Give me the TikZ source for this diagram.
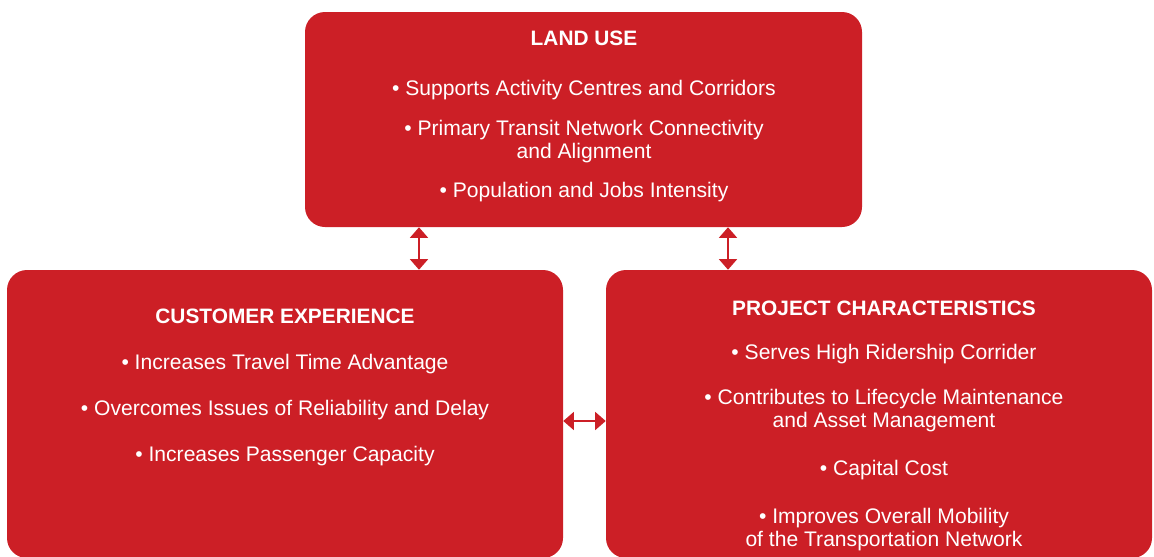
\documentclass[tikz,border=0pt]{standalone}
\usepackage{fontspec}
\setmainfont{Liberation Sans}
\usetikzlibrary{arrows.meta}
\definecolor{boxred}{RGB}{204,31,38}

\begin{document}
\begin{tikzpicture}[
	box/.style={fill=boxred, rounded corners=0.6cm, inner sep=0pt},
	hd/.style={text=white, inner sep=0pt, font=\fontsize{17.8}{19.6}\selectfont\bfseries},
	item/.style={text=white, inner sep=0pt, align=center, font=\fontsize{18}{19.6}\selectfont},
	arr/.style={draw=boxred, line width=2.4pt, {Triangle[length=9pt,width=15pt]}-{Triangle[length=9pt,width=15pt]}}
]
	\useasboundingbox (0,0) rectangle (34.62,-16.68);

	% the three boxes
	\node[box, minimum width=16.71cm, minimum height=6.45cm] (landuse) at (17.505,-3.585) {};
	\node[box, minimum width=16.68cm, minimum height=8.64cm] (customer) at (8.55,-12.42) {};
	\node[box, minimum width=16.38cm, minimum height=8.64cm] (project) at (26.37,-12.42) {};

	% links between them
	\draw[arr] (12.57,0 |- landuse.south) -- (12.57,0 |- customer.north);
	\draw[arr] (21.84,0 |- landuse.south) -- (21.84,0 |- project.north);
	\draw[arr] (customer.east |- 0,-12.63) -- (project.west |- 0,-12.63);

	\node[hd] (luhead) at (17.52,-1.14) {LAND USE};
	\node[item] (lu1) at (17.52,-2.70) {\textbullet\ Supports Activity Centres and Corridors};
	\node[item] (lu2) at (17.52,-4.245) {\textbullet\ Primary Transit Network Connectivity\\and Alignment};
	\node[item] (lu3) at (17.52,-5.76) {\textbullet\ Population and Jobs Intensity};

	\node[hd] (cehead) at (8.55,-9.48) {CUSTOMER EXPERIENCE};
	\node[item] (ce1) at (8.55,-10.92) {\textbullet\ Increases Travel Time Advantage};
	\node[item] (ce2) at (8.55,-12.30) {\textbullet\ Overcomes Issues of Reliability and Delay};
	\node[item] (ce3) at (8.55,-13.68) {\textbullet\ Increases Passenger Capacity};

	\node[hd] (pchead) at (26.52,-9.24) {PROJECT CHARACTERISTICS};
	\node[item] (pc1) at (26.52,-10.62) {\textbullet\ Serves High Ridership Corrider};
	\node[item] (pc2) at (26.52,-12.315) {\textbullet\ Contributes to Lifecycle Maintenance\\and Asset Management};
	\node[item] (pc3) at (26.52,-14.10) {\textbullet\ Capital Cost};
	\node[item] (pc4) at (26.52,-15.885) {\textbullet\ Improves Overall Mobility\\of the Transportation Network};
\end{tikzpicture}
\end{document}
